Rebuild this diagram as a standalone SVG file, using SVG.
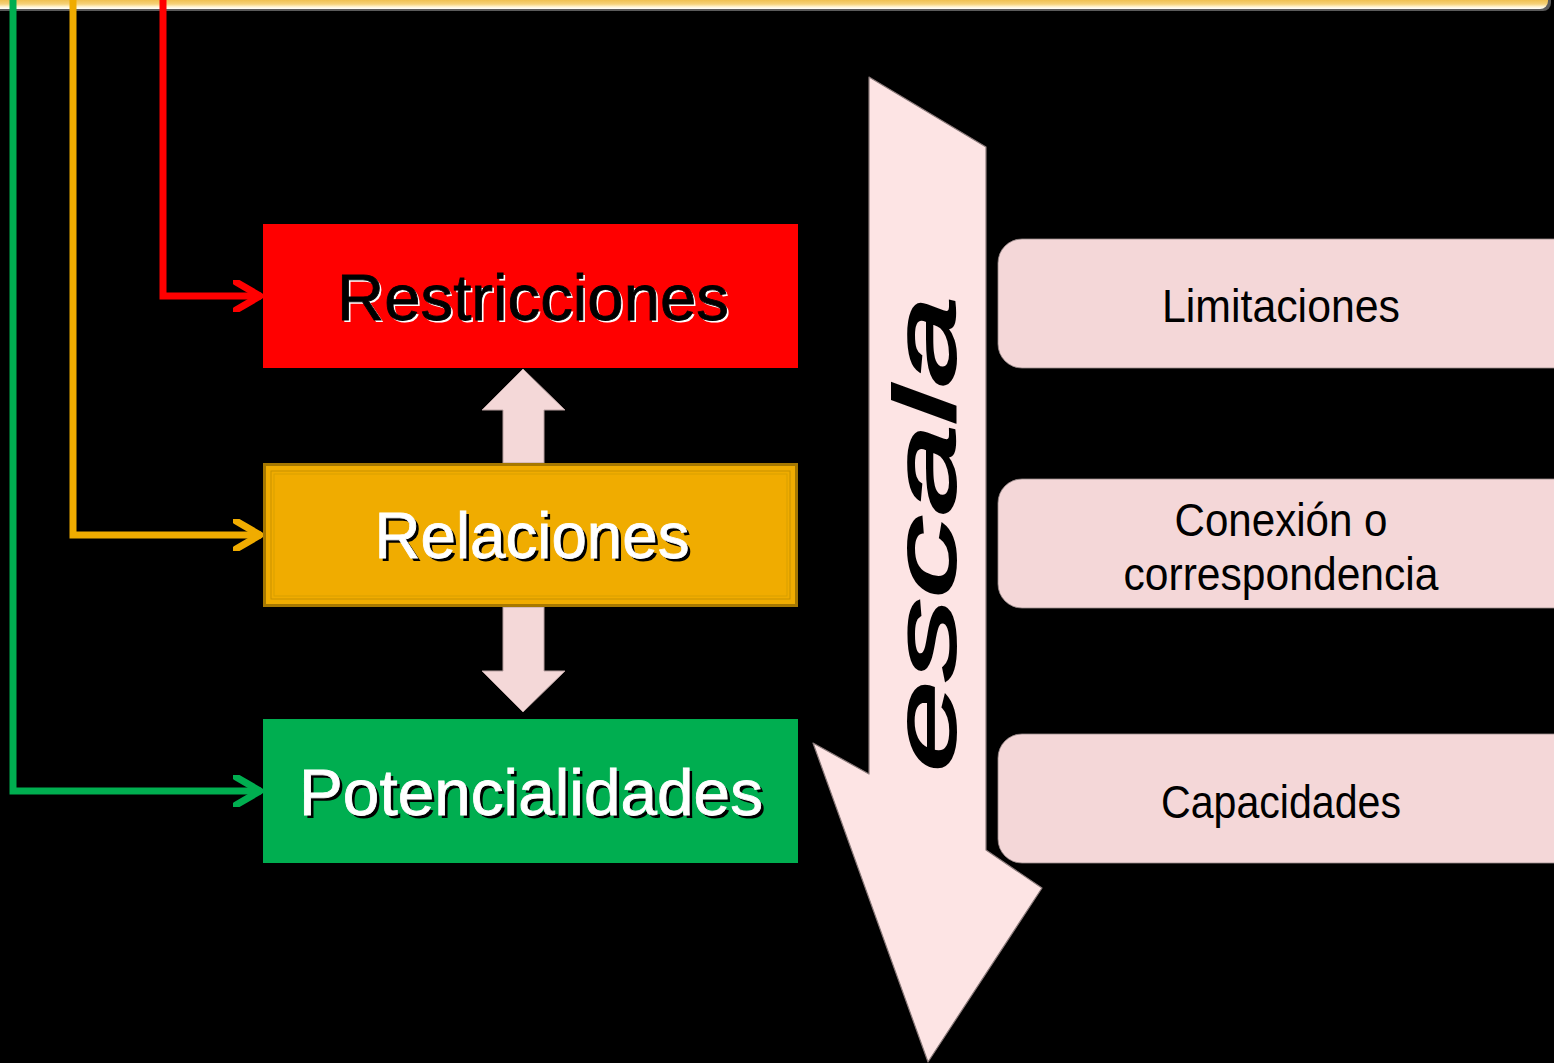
<svg xmlns="http://www.w3.org/2000/svg" width="1554" height="1063" viewBox="0 0 1554 1063">
<defs>
<linearGradient id="topbar" gradientUnits="userSpaceOnUse" x1="0" y1="0" x2="0" y2="9">
<stop offset="0" stop-color="#f0c050"/>
<stop offset="0.45" stop-color="#f6d27a"/>
<stop offset="0.75" stop-color="#fff3cf"/>
<stop offset="1" stop-color="#ffffff"/>
</linearGradient>
<marker id="chev-red" viewBox="0 0 30 32" refX="28" refY="16" markerWidth="30" markerHeight="32" markerUnits="userSpaceOnUse" orient="auto">
<path d="M3,2 L27,16 L3,30" fill="none" stroke="#ff0000" stroke-width="7" stroke-linecap="round" stroke-linejoin="round"/>
</marker>
<marker id="chev-orange" viewBox="0 0 30 32" refX="28" refY="16" markerWidth="30" markerHeight="32" markerUnits="userSpaceOnUse" orient="auto">
<path d="M3,2 L27,16 L3,30" fill="none" stroke="#f0ac00" stroke-width="7" stroke-linecap="round" stroke-linejoin="round"/>
</marker>
<marker id="chev-green" viewBox="0 0 30 32" refX="28" refY="16" markerWidth="30" markerHeight="32" markerUnits="userSpaceOnUse" orient="auto">
<path d="M3,2 L27,16 L3,30" fill="none" stroke="#00ae50" stroke-width="7" stroke-linecap="round" stroke-linejoin="round"/>
</marker>
</defs>
<style>
.main { font-family: "Liberation Sans", Arial, sans-serif; font-size: 64px; text-anchor: middle; }
.side { font-family: "Liberation Sans", Arial, sans-serif; font-size: 46px; text-anchor: middle; fill: #000; }
.sidebox { fill: #f4d7d8; stroke: #9a8a8a; stroke-width: 0.8; }
.dbl { fill: #f4d8d8; stroke: #b8a0a0; stroke-width: 1; }
.conn { fill: none; stroke-width: 7; stroke-linejoin: miter; }
</style>
<rect x="0" y="0" width="1554" height="1063" fill="#000"/>

<!-- top bar -->
<g id="topbar">
<rect x="-10" y="-20" width="1561" height="31" rx="8" fill="#5a5a5a"/>
<rect x="-10" y="-30" width="1558" height="39" rx="8" fill="url(#topbar)"/>
</g>

<!-- big scale arrow -->
<g id="escala">
<polygon points="869,77 986,147 986,850 1042,888 928,1062 813,743 869,774" fill="#fde4e4" stroke="#8a7a7a" stroke-width="1.2" stroke-linejoin="round"/>
<text transform="translate(955,534) rotate(-90)" x="0" y="0" font-family="'Liberation Sans', Arial, sans-serif" font-style="italic" font-size="88" text-anchor="middle" textLength="476" lengthAdjust="spacingAndGlyphs" fill="#000" stroke="#000" stroke-width="2">escala</text>
</g>

<!-- connectors -->
<g id="connectors">
<polyline class="conn" stroke="#ff0000" points="163,0 163,296 261,296" marker-end="url(#chev-red)"/>
<polyline class="conn" stroke="#f0ac00" points="73,0 73,535 261,535" marker-end="url(#chev-orange)"/>
<polyline class="conn" stroke="#00ae50" points="13,0 13,791 261,791" marker-end="url(#chev-green)"/>
<polygon class="dbl" points="523,369 565,410 544,410 544,463 503,463 503,410 482,410"/>
<polygon class="dbl" points="523,712 565,671 544,671 544,607 503,607 503,671 482,671"/>
</g>

<!-- Restricciones -->
<g id="node-restricciones">
<rect x="263" y="224" width="535" height="144" fill="#ff0000"/>
<text class="main" x="535" y="322" textLength="392" lengthAdjust="spacingAndGlyphs" fill="#fff">Restricciones</text>
<text class="main" x="533" y="320" textLength="392" lengthAdjust="spacingAndGlyphs" fill="#000" stroke="#000" stroke-width="0.8">Restricciones</text>
</g>

<!-- Relaciones -->
<g id="node-relaciones">
<rect x="264.5" y="464.5" width="532" height="141" fill="#f0ac00" stroke="#a67800" stroke-width="3"/>
<rect x="271" y="471" width="519" height="128" fill="none" stroke="#c89200" stroke-width="1"/>
<rect x="274" y="474" width="513" height="122" fill="none" stroke="#d8a000" stroke-width="1"/>
<text class="main" x="535" y="561" textLength="315" lengthAdjust="spacingAndGlyphs" fill="#000">Relaciones</text>
<text class="main" x="532" y="558" textLength="315" lengthAdjust="spacingAndGlyphs" fill="#fff" stroke="#fff" stroke-width="0.8">Relaciones</text>
</g>

<!-- Potencialidades -->
<g id="node-potencialidades">
<rect x="263" y="719" width="535" height="144" fill="#00ae50"/>
<text class="main" x="534" y="818" textLength="464" lengthAdjust="spacingAndGlyphs" fill="#000">Potencialidades</text>
<text class="main" x="531" y="815" textLength="464" lengthAdjust="spacingAndGlyphs" fill="#fff" stroke="#fff" stroke-width="0.8">Potencialidades</text>
</g>

<!-- right boxes -->
<g id="node-limitaciones">
<rect class="sidebox" x="998" y="239" width="600" height="129" rx="24"/>
<text class="side" x="1281" y="322" textLength="238" lengthAdjust="spacingAndGlyphs">Limitaciones</text>
</g>
<g id="node-conexion">
<rect class="sidebox" x="998" y="479" width="600" height="129" rx="24"/>
<text class="side" x="1281" y="536" textLength="213" lengthAdjust="spacingAndGlyphs">Conexión o</text>
<text class="side" x="1281" y="590" textLength="315" lengthAdjust="spacingAndGlyphs">correspondencia</text>
</g>
<g id="node-capacidades">
<rect class="sidebox" x="998" y="734" width="600" height="129" rx="24"/>
<text class="side" x="1281" y="818" textLength="240" lengthAdjust="spacingAndGlyphs">Capacidades</text>
</g>
</svg>
